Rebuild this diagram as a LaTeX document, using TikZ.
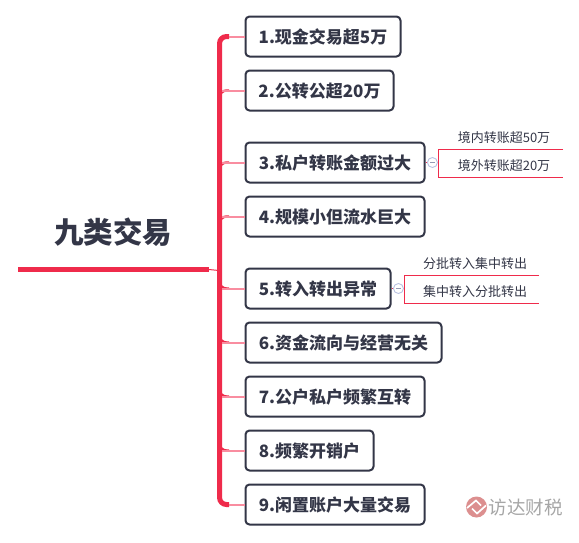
\documentclass[tikz,border=0pt]{standalone}
\usepackage{fontspec}
\setmainfont{Noto Sans CJK SC}
\usetikzlibrary{positioning}
\definecolor{inkdark}{HTML}{333647}
\definecolor{linered}{HTML}{EF2B4B}
\definecolor{linepink}{HTML}{F98DA0}
\definecolor{markred}{HTML}{DC8F8F}
\definecolor{foldblue}{HTML}{B9C2E2}

\begin{document}
\begin{tikzpicture}[
    x=1pt, y=1pt,
    item/.style={
        draw=inkdark,
        rectangle,
        rounded corners=4pt,
        line width=2pt,
        minimum height=40pt,
        anchor=west,
        inner xsep=12pt,
        inner ysep=0pt,
        text height=16pt,
        text depth=2pt,
        text=inkdark,
        font=\bfseries\fontsize{17}{18}\selectfont
    },
    sub/.style={
        text=inkdark,
        inner sep=0pt,
        font=\fontsize{13}{14}\selectfont
    },
    fold/.style={
        draw=foldblue,
        fill=white,
        circle,
        line width=0.9pt,
        minimum size=10pt,
        inner sep=0pt
    },
    stub/.style={linepink, line width=2pt},
    fillet/.style={linered, line width=2.4pt, rounded corners=7pt},
    rule/.style={linered, line width=1pt}
]
\useasboundingbox (0,0) rectangle (579,-542);

\node[font=\bfseries\fontsize{29.5}{30}\selectfont, text=inkdark, inner sep=0pt] (title) at (113,-232) {九类交易};
\coordinate (start) at (18,-269.5);
\coordinate (rootend) at (209,-269.5);

\node[item, minimum width=155pt] (i1) at (244.5,-36.5) {1.现金交易超5万};
\node[item, minimum width=148pt] (i2) at (244.5,-90.5) {2.公转公超20万};
\node[item, minimum width=179pt] (i3) at (244.5,-162.5) {3.私户转账金额过大};
\node[item, minimum width=179pt] (i4) at (244.5,-216.5) {4.规模小但流水巨大};
\node[item, minimum width=145pt] (i5) at (244.5,-288.5) {5.转入转出异常};
\node[item, minimum width=196pt] (i6) at (244.5,-342.5) {6.资金流向与经营无关};
\node[item, minimum width=179pt] (i7) at (244.5,-396.5) {7.公户私户频繁互转};
\node[item, minimum width=128pt] (i8) at (244.5,-450.5) {8.频繁开销户};
\node[item, minimum width=179pt] (i9) at (244.5,-504.5) {9.闲置账户大量交易};

% sub branches
\node[fold, right=1.5pt of i3.east] (f3) {};
\node[fold, right=1.5pt of i5.east] (f5) {};
\coordinate (b3a) at (438,-149);
\coordinate (b3b) at (438,-177);
\coordinate (e3a) at (563,-149);
\coordinate (e3b) at (563,-177);
\node[sub] (s31) at (504,-137.8) {境内转账超50万};
\node[sub] (s32) at (504,-165.8) {境外转账超20万};
\coordinate (b5a) at (404,-275);
\coordinate (b5b) at (404,-303);
\coordinate (e5a) at (539,-275);
\coordinate (e5b) at (539,-303);
\node[sub] (s51) at (475,-263.8) {分批转入集中转出};
\node[sub] (s52) at (475,-291.8) {集中转入分批转出};

\draw[linered, line width=5.5pt] (start) -- (rootend);
\draw[linered, line width=1pt] (rootend) -- (219,-270.5);

% trunk
\coordinate (elbow) at (229,0);
\coordinate (trunkside) at (222,0);
\draw[linered, line width=5pt, rounded corners=7pt] (i1.west -| elbow) -- (219.5,-36.5) -- (219.5,-504.5) -- (i9.west -| elbow);
\foreach \n in {i2,i3,i4}
    \draw[fillet] (\n.west -| elbow) -- ++(-9.5,0) -- ++(0,-12);
\foreach \n in {i5,i6,i7,i8}
    \draw[fillet] (\n.west -| elbow) -- ++(-9.5,0) -- ++(0,12);
\foreach \n in {i2,i3,i4,i5,i6,i7,i8}
    \draw[stub] (\n.west) -- (\n.west -| trunkside);
\foreach \n in {i1,i9}
    \draw[stub] (\n.west) -- (\n.west -| elbow);

\draw[rule] (i3.east) -- (f3.west);
\draw[rule] (i5.east) -- (f5.west);
\draw[foldblue!80!black, line width=0.8pt] (f3.center) ++(-2.5,0) -- ++(5,0);
\draw[foldblue!80!black, line width=0.8pt] (f5.center) ++(-2.5,0) -- ++(5,0);
\draw[rule] (e3a) -- (b3a) -- (b3b) -- (e3b);
\draw[rule] (e5a) -- (b5a) -- (b5b) -- (e5b);

% watermark
\node[text=gray!70, inner sep=0pt, font=\fontsize{18.5}{20}\selectfont] (mark) at (525.5,-507) {访达财税};
\fill[markred] (476.5,-507) circle (10.5);
\draw[white, line width=1.7pt] (467,-508) -- (476,-500.5) -- (481,-505.5);
\draw[white, line width=1.7pt] (472,-508.5) -- (477,-513.5) -- (486,-505.5);
\end{tikzpicture}
\end{document}
